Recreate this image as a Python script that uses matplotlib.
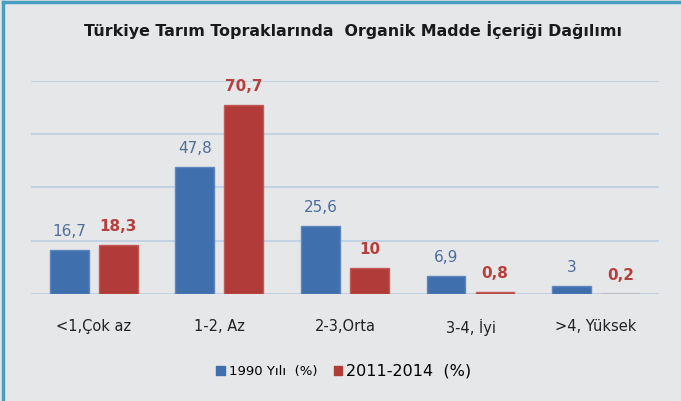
import numpy as np
import matplotlib.pyplot as plt
from matplotlib.patches import Rectangle
from matplotlib.lines import Line2D

# Data
categories = ['<1,Çok az', '1-2, Az', '2-3,Orta', '3-4, İyi', '>4, Yüksek']
values_1990 = [16.7, 47.8, 25.6, 6.9, 3]
values_2011 = [18.3, 70.7, 10, 0.8, 0.2]
labels_1990 = ['16,7', '47,8', '25,6', '6,9', '3']
labels_2011 = ['18,3', '70,7', '10', '0,8', '0,2']
series_names = ['1990 Yılı  (%)', '2011-2014  (%)']

bg = '#e6e7e9'
blue = '#3f6fad'
red = '#b03b38'

fig = plt.figure(figsize=(6.81, 4.01), dpi=100, facecolor=bg)
ax = fig.add_axes([0.0455, 0.266, 0.922, 0.533], facecolor=bg)

x = np.arange(len(categories))
w = 0.31
off = 0.195
ax.bar(x - off, values_1990, w, color=blue, edgecolor='#5f86bd', linewidth=1, zorder=3)
ax.bar(x + off, values_2011, w, color=red, edgecolor='#c45a57', linewidth=1, zorder=3)

for xi, v, t in zip(x, values_1990, labels_1990):
    ax.annotate(t, (xi - off, v), xytext=(0, 8), textcoords='offset points',
                ha='center', va='bottom', fontsize=11, color='#4e6d9b')
for xi, v, t in zip(x, values_2011, labels_2011):
    ax.annotate(t, (xi + off, v), xytext=(0, 8), textcoords='offset points',
                ha='center', va='bottom', fontsize=11, color='#b5403d', fontweight='bold')

ax.set_xlim(-0.5, len(categories) - 0.5)
ax.set_ylim(0, 80)
ax.set_yticks([0, 20, 40, 60, 80])
ax.yaxis.grid(True, color='#c3d2e3', linewidth=1.5, zorder=0)
ax.tick_params(axis='y', left=False, labelleft=False)
ax.tick_params(axis='x', bottom=False, pad=14, labelsize=10.5, labelcolor='#222222')
ax.set_xticks(x)
ax.set_xticklabels(categories)
for s in ax.spines.values():
    s.set_visible(False)

fig.text(0.518, 0.925, 'Türkiye Tarım Topraklarında  Organik Madde İçeriği Dağılımı',
         ha='center', va='center', fontsize=11.4, fontweight='bold', color='#1a1a1a')

handles = [Rectangle((0, 0), 1, 1, color=blue), Rectangle((0, 0), 1, 1, color=red)]
leg = fig.legend(handles, series_names, loc='center', bbox_to_anchor=(0.505, 0.075),
                 ncol=2, frameon=False, handlelength=0.6, handleheight=0.6,
                 handletextpad=0.3, columnspacing=1.2)
leg.get_texts()[0].set_fontsize(9.5)
leg.get_texts()[1].set_fontsize(11.5)

# border on top and left
fig.add_artist(Line2D([0.004, 0.004], [0, 0.995], transform=fig.transFigure,
                      color='#4a9fc0', linewidth=2.5))
fig.add_artist(Line2D([0.004, 1], [0.995, 0.995], transform=fig.transFigure,
                      color='#4a9fc0', linewidth=2.5))

fig.savefig('out.png', dpi=100, facecolor=bg)
